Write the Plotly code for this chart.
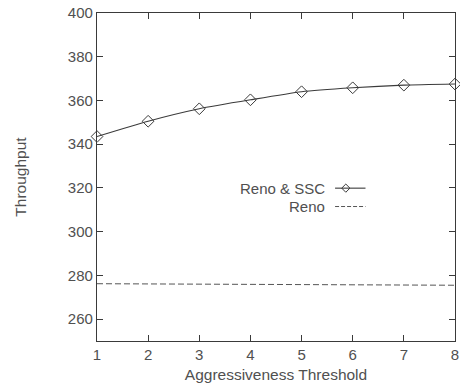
import plotly.graph_objects as go

thresholds = [1, 2, 3, 4, 5, 6, 7, 8]
reno_ssc = [343.5, 350.5, 356.2, 360.3, 364.0, 365.8, 367.0, 367.5]
reno = [276.2, 276.1, 276.0, 275.9, 275.8, 275.7, 275.6, 275.5]

FONT = "Liberation Sans, Arial, sans-serif"
TXT = "#505050"
LINE = "#3a3a3a"

fig = go.Figure()
fig.add_trace(go.Scatter(x=thresholds, y=reno_ssc, mode="lines+markers", name="Reno & SSC",
                         cliponaxis=False,
                         line=dict(color=LINE, width=1.1, shape="spline", smoothing=0.6),
                         marker=dict(symbol="diamond-open", size=9, color=LINE, line=dict(width=1))))
fig.add_trace(go.Scatter(x=thresholds, y=reno, mode="lines", name="Reno",
                         line=dict(color="#555555", width=1, dash="6px,3px")))

axis_common = dict(showline=True, linecolor=LINE, linewidth=1.2, mirror="ticks",
                   ticks="inside", ticklen=6, tickcolor=LINE, tickwidth=1.2,
                   showgrid=False, zeroline=False, automargin=False,
                   tickfont=dict(family=FONT, size=15, color=TXT))

fig.update_layout(
    width=460, height=388,
    margin=dict(l=97, r=5, t=13, b=47),
    paper_bgcolor="white", plot_bgcolor="white",
    showlegend=False,
    xaxis=dict(range=[1, 8], tickvals=thresholds, **axis_common,
               title=dict(text="Aggressiveness Threshold", standoff=7,
                          font=dict(family=FONT, size=15.5, color=TXT))),
    yaxis=dict(range=[250, 400], tickvals=[260, 280, 300, 320, 340, 360, 380, 400], **axis_common,
               title=dict(text="Throughput", standoff=37,
                          font=dict(family=FONT, size=15.5, color=TXT))),
)

# manual legend (text left, sample right)
legend_items = [("Reno & SSC", 0.466, True), ("Reno", 0.41, False)]
for label, yp, marker in legend_items:
    fig.add_annotation(x=0.642, y=yp, xref="paper", yref="paper", text=label, showarrow=False,
                       xanchor="right", yanchor="middle",
                       font=dict(family=FONT, size=15, color=TXT))
    fig.add_shape(type="line", xref="paper", yref="paper", x0=0.665, x1=0.75, y0=yp, y1=yp,
                  line=dict(color=LINE if marker else "#555555", width=1.1 if marker else 1,
                            dash="solid" if marker else "4px,2px"))
    if marker:
        cx, cy, dx, dy = 0.695, yp, 0.0115, 0.0125
        fig.add_shape(type="path", xref="paper", yref="paper",
                      path=f"M {cx-dx},{cy} L {cx},{cy+dy} L {cx+dx},{cy} L {cx},{cy-dy} Z",
                      line=dict(color=LINE, width=1), fillcolor="rgba(0,0,0,0)")

fig.write_html("out.html", config={"displayModeBar": False},
               post_script="document.body.style.margin='0';document.body.style.overflow='hidden';")
